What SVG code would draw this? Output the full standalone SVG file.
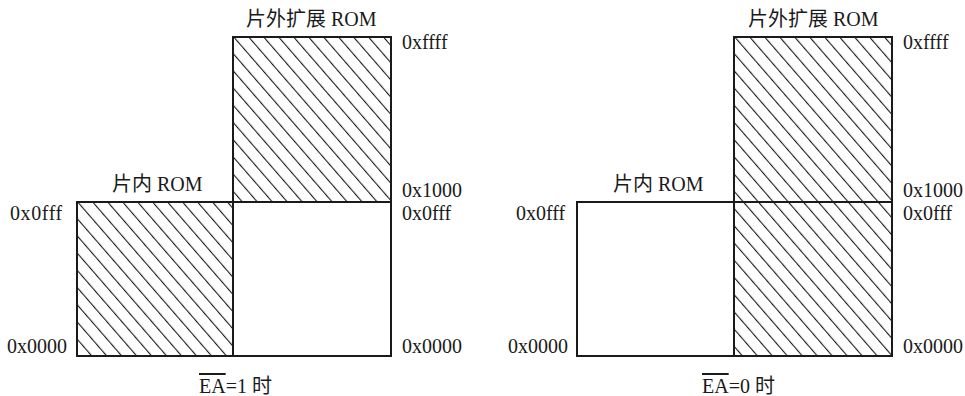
<svg xmlns="http://www.w3.org/2000/svg" width="965" height="396" viewBox="0 0 965 396">
<style>
.box{stroke:#1a1a1a;stroke-width:2;}
.t{font-family:"Liberation Serif","Noto Sans CJK SC",serif;font-size:20px;fill:#1a1a1a;}
.blank{fill:#fff;}
</style>
<defs>
<pattern id="hatchL" patternUnits="userSpaceOnUse" width="11.3" height="10" patternTransform="translate(233,37) rotate(-41)">
<rect x="0" y="0" width="1.1" height="10" fill="#1a1a1a"/>
</pattern>
<pattern id="hatchR" patternUnits="userSpaceOnUse" width="11.3" height="10" patternTransform="translate(734,37) rotate(-41)">
<rect x="0" y="0" width="1.1" height="10" fill="#1a1a1a"/>
</pattern>
</defs>
<rect width="965" height="396" fill="#fff"/>

<!-- Left panel: EA=1 -->
<g id="left-ext-rom">
<rect class="box" x="233" y="37" width="158" height="165" fill="url(#hatchL)"/>
<text class="t" x="246" y="26">片外扩展 ROM</text>
<text class="t" x="402" y="49">0xffff</text>
<text class="t" x="402" y="197">0x1000</text>
</g>
<g id="left-int-rom">
<rect class="box" x="77" y="202" width="156" height="154" fill="url(#hatchL)"/>
<text class="t" x="112" y="191">片内 ROM</text>
<text class="t" x="10" y="220" letter-spacing="0.6">0x0fff</text>
<text class="t" x="7" y="353">0x0000</text>
</g>
<g id="left-ext-low">
<rect class="box blank" x="233" y="202" width="158" height="154"/>
<text class="t" x="402" y="220">0x0fff</text>
<text class="t" x="402" y="353">0x0000</text>
</g>
<g id="left-caption">
<text class="t" x="199" y="393"><tspan text-decoration="overline">EA</tspan>=1 时</text>
</g>

<!-- Right panel: EA=0 -->
<g id="right-ext-rom">
<rect class="box" x="734" y="37" width="158" height="165" fill="url(#hatchR)"/>
<text class="t" x="748" y="26">片外扩展 ROM</text>
<text class="t" x="903" y="49">0xffff</text>
<text class="t" x="903" y="197">0x1000</text>
</g>
<g id="right-int-rom">
<rect class="box blank" x="577" y="202" width="157" height="154"/>
<text class="t" x="613" y="191">片内 ROM</text>
<text class="t" x="516" y="220">0x0fff</text>
<text class="t" x="508" y="353">0x0000</text>
</g>
<g id="right-ext-low">
<rect class="box" x="734" y="202" width="158" height="154" fill="url(#hatchR)"/>
<text class="t" x="903" y="220">0x0fff</text>
<text class="t" x="903" y="353">0x0000</text>
</g>
<g id="right-caption">
<text class="t" x="702" y="393"><tspan text-decoration="overline">EA</tspan>=0 时</text>
</g>

<g id="connectors"></g>
</svg>
